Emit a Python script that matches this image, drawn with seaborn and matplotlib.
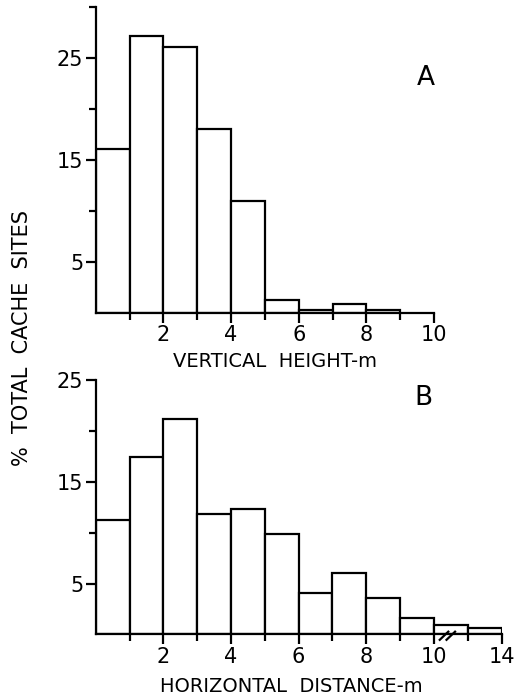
import numpy as np
import pandas as pd
import matplotlib
matplotlib.use('Agg')
import matplotlib.pyplot as plt
import seaborn as sns

# данные (% от всех тайников)
height_bins = [0, 1, 2, 3, 4, 5, 6, 7, 8, 9]
height_pct = [16.0, 27.1, 26.0, 18.0, 10.9, 1.2, 0.3, 0.85, 0.3]

dist_bins = [0, 1, 2, 3, 4, 5, 6, 7, 8, 9, 10, 11, 12]
dist_pct = [11.2, 17.4, 21.2, 11.8, 12.3, 9.9, 4.1, 6.0, 3.6, 1.65, 0.95, 0.65]

height_ticks = [2, 4, 6, 8, 10]
height_ticklabels = ['2', '4', '6', '8', '10']
dist_ticks = [2, 4, 6, 8, 10, 12]
dist_ticklabels = ['2', '4', '6', '8', '10', '14']

sns.set_style('ticks')
plt.rcParams['font.family'] = ['DejaVu Sans']
plt.rcParams['text.color'] = 'black'
plt.rcParams['xtick.color'] = 'black'
plt.rcParams['ytick.color'] = 'black'
plt.rcParams['axes.labelcolor'] = 'black'

fig = plt.figure(figsize=(5.15, 6.99), dpi=100)
ax_a = fig.add_axes([0.1858, 0.5527, 0.657, 0.4378])
ax_b = fig.add_axes([0.1858, 0.0923, 0.788, 0.364])

lw = 1.6


def draw_hist(ax, edges, values):
    df = pd.DataFrame({'x': np.array(edges[:-1]) + 0.5, 'w': values})
    sns.histplot(data=df, x='x', weights='w', bins=edges, ax=ax,
                 color='white', edgecolor='black', linewidth=lw, alpha=1)
    sns.despine(ax=ax)
    ax.spines['left'].set_linewidth(lw)
    ax.spines['bottom'].set_linewidth(lw)
    ax.spines['left'].set_color('black')
    ax.spines['bottom'].set_color('black')
    ax.set_xlabel('')
    ax.set_ylabel('')
    ax.tick_params(axis='both', which='major', length=7, width=lw,
                   labelsize=15, pad=2)
    ax.tick_params(axis='both', which='minor', length=5, width=lw)


draw_hist(ax_a, height_bins, height_pct)
ax_a.set_xlim(0, 10)
ax_a.set_ylim(0, 30)
ax_a.set_yticks([5, 15, 25])
ax_a.set_yticks([10, 20, 30], minor=True)
ax_a.set_xticks(height_ticks)
ax_a.set_xticklabels(height_ticklabels)
ax_a.set_xticks([1, 3, 5, 7, 9], minor=True)
ax_a.set_xlabel('VERTICAL  HEIGHT-m', fontsize=14, va='center')
ax_a.xaxis.set_label_coords(0.53, -0.158)
ax_a.text(9.75, 23.0, 'A', fontsize=19, ha='center', va='center')

draw_hist(ax_b, dist_bins, dist_pct)
ax_b.set_xlim(0, 12)
ax_b.set_ylim(0, 25)
ax_b.set_yticks([5, 15, 25])
ax_b.set_yticks([10, 20], minor=True)
ax_b.set_xticks(dist_ticks)
ax_b.set_xticklabels(dist_ticklabels)
ax_b.set_xticks([1, 3, 5, 7, 9, 11], minor=True)
ax_b.set_xlabel('HORIZONTAL  DISTANCE-m', fontsize=14, va='center')
ax_b.xaxis.set_label_coords(0.483, -0.206)
ax_b.text(9.68, 23.2, 'B', fontsize=19, ha='center', va='center')

# знак разрыва оси "//"
for x0 in [10.15, 10.35]:
    ax_b.plot([x0, x0 + 0.3], [-0.6, 0.35], color='black', lw=lw,
              clip_on=False, solid_capstyle='butt')

fig.text(0.043, 0.516, '%  TOTAL  CACHE  SITES', rotation=90, fontsize=15,
         ha='center', va='center')

fig.savefig('out.png', dpi=100)
